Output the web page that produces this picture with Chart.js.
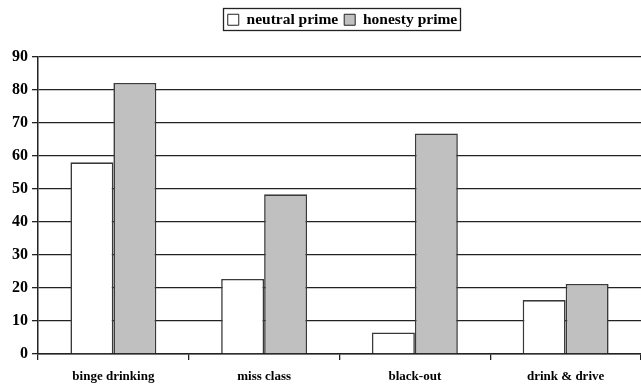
<!DOCTYPE html>
<html>
<head>
<meta charset="utf-8">
<script src="https://cdn.jsdelivr.net/npm/chart.js@4/dist/chart.umd.min.js"></script>
<style>
html,body{margin:0;padding:0;background:#fff;}
canvas{display:block;}
</style>
</head>
<body>
<canvas id="c" width="641" height="386"></canvas>
<script>
const categories = ["binge drinking", "miss class", "black-out", "drink & drive"];
const neutralPrime = [58, 22.7, 6.5, 16.3];
const honestyPrime = [82, 48.3, 66.7, 21.2];
const seriesNames = ["neutral prime", "honesty prime"];
const yTicks = [0, 10, 20, 30, 40, 50, 60, 70, 80, 90];

const FONT = "'Liberation Serif', 'Times New Roman', serif";
const LEGEND_SHIFT = 18;

const legendBox = {
  id: 'legendBox',
  beforeInit(chart) {
    const lg = chart.legend;
    const origFit = lg.fit;
    lg.fit = function () {
      origFit.call(this);
      this.height += 19;
    };
    const origDraw = lg.draw;
    lg.draw = function () {
      const ctx = chart.ctx;
      ctx.save();
      ctx.translate(LEGEND_SHIFT, 0);
      origDraw.call(this);
      ctx.restore();
    };
  },
  afterDraw(chart) {
    const lg = chart.legend;
    if (!lg || !lg.legendHitBoxes || !lg.legendHitBoxes.length) return;
    let x0 = Infinity, x1 = -Infinity, y0 = Infinity, y1 = -Infinity;
    lg.legendHitBoxes.forEach(b => {
      x0 = Math.min(x0, b.left); x1 = Math.max(x1, b.left + b.width);
      y0 = Math.min(y0, b.top); y1 = Math.max(y1, b.top + b.height);
    });
    const ctx = chart.ctx;
    ctx.save();
    ctx.strokeStyle = '#222';
    ctx.lineWidth = 1.3;
    ctx.strokeRect(Math.round(x0 - 5 + LEGEND_SHIFT) + 0.5, Math.round(y0 - 4) + 0.5, Math.round(x1 - x0 + 8), Math.round(y1 - y0 + 6));
    ctx.restore();
  }
};

new Chart(document.getElementById('c'), {
  type: 'bar',
  data: {
    labels: categories,
    datasets: [
      {
        label: seriesNames[0],
        data: neutralPrime,
        backgroundColor: '#ffffff',
        borderColor: '#3a3a3a',
        borderWidth: 1.6
      },
      {
        label: seriesNames[1],
        data: honestyPrime,
        backgroundColor: '#c0c0c0',
        borderColor: '#3a3a3a',
        borderWidth: 1.6
      }
    ]
  },
  options: {
    responsive: false,
    animation: false,
    layout: { padding: { left: 8, right: 0, top: 6, bottom: -7 } },
    datasets: {
      bar: { categoryPercentage: 0.57, barPercentage: 1.0 }
    },
    plugins: {
      legend: {
        position: 'top',
        labels: {
          color: '#000',
          font: { family: FONT, size: 15.5, weight: 'bold' },
          boxWidth: 11,
          boxHeight: 11,
          padding: 6,
          generateLabels(chart) {
            return chart.data.datasets.map((ds, i) => ({
              text: ds.label,
              fillStyle: ds.backgroundColor,
              strokeStyle: '#222',
              lineWidth: 1,
              datasetIndex: i,
              hidden: false
            }));
          }
        }
      },
      tooltip: { enabled: false }
    },
    scales: {
      x: {
        grid: {
          drawOnChartArea: false,
          drawTicks: true,
          tickLength: 6,
          color: '#222',
          lineWidth: 1.3,
          offset: true
        },
        border: { color: '#222', width: 1.5 },
        ticks: {
          color: '#000',
          font: { family: FONT, size: 13, weight: 'bold', lineHeight: 1 },
          padding: 10,
          maxRotation: 0
        }
      },
      y: {
        min: 0,
        max: 90,
        afterBuildTicks(axis) {
          axis.ticks = yTicks.map(v => ({ value: v }));
        },
        grid: {
          drawOnChartArea: true,
          drawTicks: true,
          tickLength: 6,
          color: '#222',
          lineWidth: 1.3
        },
        border: { color: '#222', width: 1.5 },
        ticks: {
          color: '#000',
          font: { family: FONT, size: 16, weight: 'bold' },
          padding: 4
        }
      }
    }
  },
  plugins: [legendBox]
});
</script>
</body>
</html>
